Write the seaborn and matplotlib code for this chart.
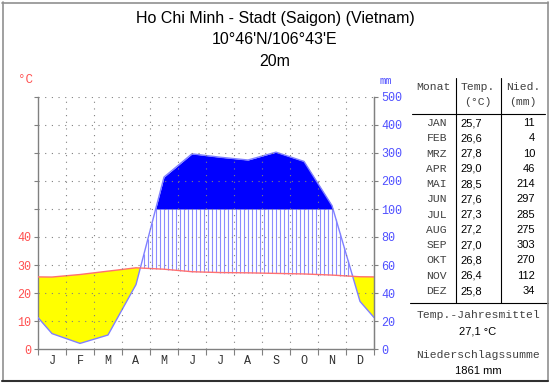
import numpy as np
import pandas as pd
import matplotlib
matplotlib.use("Agg")
import matplotlib.pyplot as plt
from matplotlib.lines import Line2D
import seaborn as sns

# ---- data ----
months_short = ["J", "F", "M", "A", "M", "J", "J", "A", "S", "O", "N", "D"]
months_table = ["JAN", "FEB", "MRZ", "APR", "MAI", "JUN", "JUL", "AUG", "SEP", "OKT", "NOV", "DEZ"]
temp = [25.7, 26.6, 27.8, 29.0, 28.5, 27.6, 27.3, 27.2, 27.0, 26.8, 26.4, 25.8]
precip = [11, 4, 10, 46, 214, 297, 285, 275, 303, 270, 112, 34]
temp_labels = ["25,7", "26,6", "27,8", "29,0", "28,5", "27,6", "27,3", "27,2", "27,0", "26,8", "26,4", "25,8"]
left_ticklabels = ["0", "10", "20", "30", "40", "", "", "", "", ""]
right_ticklabels = ["0", "20", "40", "60", "80", "100", "200", "300", "400", "500"]
title_lines = ["Ho Chi Minh - Stadt (Saigon) (Vietnam)", "10°46'N/106°43'E", "20m"]
annual_temp = "27,1 °C"
annual_precip = "1861 mm"

sns.set_style("white")
plt.rcParams["font.family"] = ["Liberation Sans", "DejaVu Sans"]
MONO = ["Liberation Mono", "DejaVu Sans Mono"]

W, H = 550, 384
fig = plt.figure(figsize=(W / 100, H / 100), dpi=100)
fig.patch.set_facecolor("white")

def fx(px):
    return px / W

def fy(py):
    return 1 - py / H

ax = fig.add_axes([fx(38), fy(349), (374 - 38) / W, (349 - 97) / H])
ax.set_facecolor("white")

def scale_p(p):
    p = np.asarray(p, dtype=float)
    return np.where(p <= 100, p / 2.0, 50 + (p - 100) / 10.0)

xc = np.arange(12) + 0.5
edge_t = (temp[0] + temp[-1]) / 2
edge_p = (precip[0] + precip[-1]) / 2
xe = np.concatenate([[0], xc, [12]])
te = np.concatenate([[edge_t], temp, [edge_t]])
pe = scale_p(np.concatenate([[edge_p], precip, [edge_p]]))

xf = np.linspace(0, 12, 4801)
tf = np.interp(xf, xe, te)
pf = np.interp(xf, xe, pe)

# arid
ax.fill_between(xf, pf, tf, where=pf < tf, color="#ffff00", interpolate=True, lw=0, zorder=1)
# humid hatch
xs = np.arange(0, 12, 1 / 7.0) + 1 / 14.0
ts = np.interp(xs, xe, te)
ps = np.interp(xs, xe, pe)
m = ps > ts
ax.vlines(xs[m], ts[m], np.minimum(ps[m], 50), color="#8c8cff", lw=0.8, zorder=1)
# perhumid
ax.fill_between(xf, 50, pf, where=pf > 50, color="#0000ff", interpolate=True, lw=0, zorder=2)

df = pd.DataFrame({"x": xe, "t": te, "p": pe})
sns.lineplot(data=df, x="x", y="p", ax=ax, color="#8080ff", lw=1, zorder=3)
sns.lineplot(data=df, x="x", y="t", ax=ax, color="#ff7070", lw=1, zorder=4)

ax.set_xlim(0, 12)
ax.set_ylim(0, 90)
ax.set_xlabel("")
ax.set_ylabel("")

# grid
for yv in range(10, 91, 10):
    ax.plot([0, 12], [yv, yv], color="#808080", lw=0.8, ls=(0, (1, 5)), zorder=5)
for xv in range(1, 12):
    ax.plot([xv, xv], [0, 90], color="#808080", lw=0.8, ls=(0, (1, 5)), zorder=5)

ax.spines["top"].set_visible(False)
for s in ["left", "right", "bottom"]:
    ax.spines[s].set_color("#808080")
    ax.spines[s].set_linewidth(1)

ax.set_yticks(range(0, 91, 10))
ax.set_yticklabels(left_ticklabels, family=MONO, fontsize=8.5, color="#ff5050")
ax.tick_params(axis="y", left=True, length=3, width=0.8, color="#808080", pad=2)
ax.set_xticks(range(13))
ax.set_xticklabels([""] * 13)
ax.set_xticks(xc, minor=True)
ax.set_xticklabels(months_short, minor=True, family=MONO, fontsize=8.5, color="#303030")
ax.tick_params(axis="x", which="major", bottom=True, length=4, width=0.8, color="#808080")
ax.tick_params(axis="x", which="minor", bottom=False, length=0, pad=4)

ax2 = ax.twinx()
ax2.set_ylim(0, 90)
ax2.set_yticks(range(0, 91, 10))
ax2.set_yticklabels(right_ticklabels, family=MONO, fontsize=8.5, color="#5050ff")
ax2.tick_params(axis="y", right=True, length=3, width=0.8, color="#808080", pad=2)
for s in ["top", "left", "bottom"]:
    ax2.spines[s].set_visible(False)
ax2.spines["right"].set_color("#808080")
ax2.grid(False)

fig.text(fx(25), fy(80), "°C", family=MONO, fontsize=9, color="#ff5050", ha="center", va="center")
fig.text(fx(386), fy(81), "mm", family=MONO, fontsize=7.5, color="#5050ff", ha="center", va="center")

# title
for t, yy in zip(title_lines, [18, 40, 62]):
    fig.text(fx(275), fy(yy), t, fontsize=11.5, color="black", ha="center", va="center")

# table
grey = "#404040"
TF = 8.2
fig.text(fx(433), fy(87), "Monat", family=MONO, fontsize=TF, color=grey, ha="center", va="center")
fig.text(fx(478), fy(87), "Temp.", family=MONO, fontsize=TF, color=grey, ha="center", va="center")
fig.text(fx(478), fy(102), "(°C)", family=MONO, fontsize=TF, color=grey, ha="center", va="center")
fig.text(fx(523), fy(87), "Nied.", family=MONO, fontsize=TF, color=grey, ha="center", va="center")
fig.text(fx(523), fy(102), "(mm)", family=MONO, fontsize=TF, color=grey, ha="center", va="center")
row_y = np.linspace(123, 291, 12)
for name, tl, p, yy in zip(months_table, temp_labels, precip, row_y):
    fig.text(fx(447), fy(yy), name, family=MONO, fontsize=TF, color=grey, ha="right", va="center")
    fig.text(fx(471), fy(yy), tl, fontsize=8, color="black", ha="center", va="center")
    fig.text(fx(535), fy(yy), str(p), fontsize=8, color="black", ha="right", va="center")

fig.add_artist(Line2D([fx(412), fx(545)], [fy(114), fy(114)], color="black", lw=0.8))
fig.add_artist(Line2D([fx(456), fx(456)], [fy(78), fy(303)], color="black", lw=0.8))
fig.add_artist(Line2D([fx(501), fx(501)], [fy(78), fy(303)], color="black", lw=0.8))
fig.add_artist(Line2D([fx(410), fx(548)], [fy(303), fy(303)], color="black", lw=0.8))

fig.text(fx(478), fy(315), "Temp.-Jahresmittel", family=MONO, fontsize=TF, color=grey, ha="center", va="center")
fig.text(fx(478), fy(332), annual_temp, fontsize=8, color="black", ha="center", va="center")
fig.text(fx(478), fy(355), "Niederschlagssumme", family=MONO, fontsize=TF, color=grey, ha="center", va="center")
fig.text(fx(478), fy(371), annual_precip, fontsize=8, color="black", ha="center", va="center")

# frame
fig.add_artist(Line2D([fx(2.5), fx(2.5)], [fy(2), fy(381)], color="#909090", lw=1.2))
fig.add_artist(Line2D([fx(2), fx(548)], [fy(2.5), fy(2.5)], color="#909090", lw=1.2))
fig.add_artist(Line2D([fx(548), fx(548)], [fy(2), fy(381)], color="#909090", lw=1.2))
fig.add_artist(Line2D([fx(2), fx(548)], [fy(381), fy(381)], color="#303030", lw=1.5))

fig.savefig("out.png", dpi=100, facecolor="white")
